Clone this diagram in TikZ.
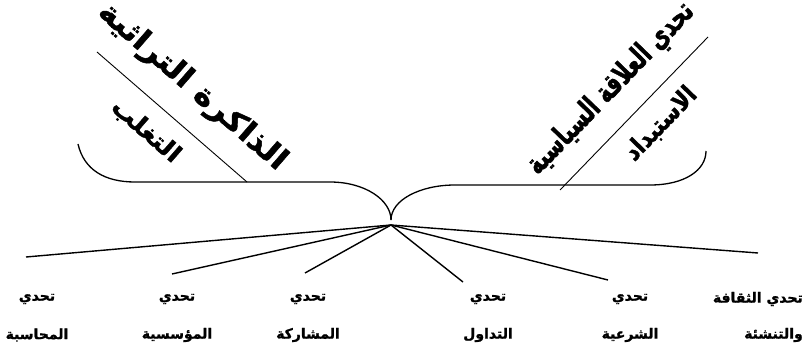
\documentclass[tikz,border=0pt]{standalone}
\usepackage{fontspec}
\newfontfamily\arlabel[Script=Arabic, FakeBold=1.2]{DejaVu Sans Bold}
\newfontfamily\arwide[Script=Arabic, FakeBold=1.5, FakeStretch=1.1]{DejaVu Sans Bold}
\newfontfamily\armid[Script=Arabic, FakeBold=1.5, FakeStretch=0.85]{DejaVu Sans Bold}
\newfontfamily\arnarrow[Script=Arabic, FakeBold=1.5, FakeStretch=0.68]{DejaVu Sans Bold}
\TeXXeTstate=1
\begin{document}
\begin{tikzpicture}[x=1pt,y=-1pt,
  bracket/.style={line width=1.3pt},
  diag/.style={line width=0.9pt},
  spoke/.style={line width=1.4pt},
  lefttitle/.style={font=\arwide\fontsize{30}{34}\selectfont, inner sep=0pt},
  leftsub/.style={font=\arwide\fontsize{24}{28}\selectfont, inner sep=0pt},
  righttitle/.style={font=\arnarrow\fontsize{30}{34}\selectfont, inner sep=0pt},
  rightsub/.style={font=\armid\fontsize{25}{28}\selectfont, inner sep=0pt},
  labeltext/.style={font=\arlabel\fontsize{14}{16}\selectfont, inner sep=0pt}]
\useasboundingbox (0,0) rectangle (805,358);

% open-book brackets
\coordinate (bl) at (78,144);
\coordinate (cusp) at (391,220);
\coordinate (br) at (706,151);
\coordinate (hub) at (391,225);
\draw[bracket] (bl) .. controls (84,170) and (105,182) .. (135,182) -- (330,182)
  .. controls (365,182) and (391,200) .. (cusp);
\draw[bracket] (cusp) .. controls (391,200) and (420,185) .. (455,185) -- (650,185)
  .. controls (685,185) and (706,170) .. (br);

% diagonals
\coordinate (dl1) at (97,52);
\coordinate (dl2) at (247,182);
\coordinate (dr1) at (560,190);
\coordinate (dr2) at (708,37);
\draw[diag] (dl1) -- (dl2);
\draw[diag] (dr1) -- (dr2);

% titles along the diagonals
\node[lefttitle, rotate=-41] (tl) at (192,87) {\beginR الذاكرة التراثية\endR};
\node[leftsub, rotate=-41] (sl) at (146,131) {\beginR التغلب\endR};
\node[righttitle, rotate=46] (tr) at (611,89) {\beginR تحدي العلاقة السياسية\endR};
\node[rightsub, rotate=46] (sr) at (661,124) {\beginR الاستبداد\endR};

% spokes
\coordinate (e1) at (26,257);
\coordinate (e2) at (172,274);
\coordinate (e3) at (305,273);
\coordinate (e4) at (463,282);
\coordinate (e5) at (608,280);
\coordinate (e6) at (758,253);
\foreach \e in {e1,e2,e3,e4,e5,e6} \draw[spoke] (hub) -- (\e);

% labels
\node[labeltext] (a1) at (37,299) {\beginR تحدي\endR};
\node[labeltext] (b1) at (37,335) {\beginR المحاسبة\endR};
\node[labeltext] (a2) at (177,299) {\beginR تحدي\endR};
\node[labeltext] (b2) at (177,335) {\beginR المؤسسية\endR};
\node[labeltext] (a3) at (308,299) {\beginR تحدي\endR};
\node[labeltext] (b3) at (308,335) {\beginR المشاركة\endR};
\node[labeltext] (a4) at (488,299) {\beginR تحدي\endR};
\node[labeltext] (b4) at (488,335) {\beginR التداول\endR};
\node[labeltext] (a5) at (630,299) {\beginR تحدي\endR};
\node[labeltext] (b5) at (630,335) {\beginR الشرعية\endR};
\node[labeltext, anchor=east] (a6) at (803,299) {\beginR تحدي الثقافة\endR};
\node[labeltext, anchor=east] (b6) at (803,335) {\beginR والتنشئة\endR};
\end{tikzpicture}
\end{document}
